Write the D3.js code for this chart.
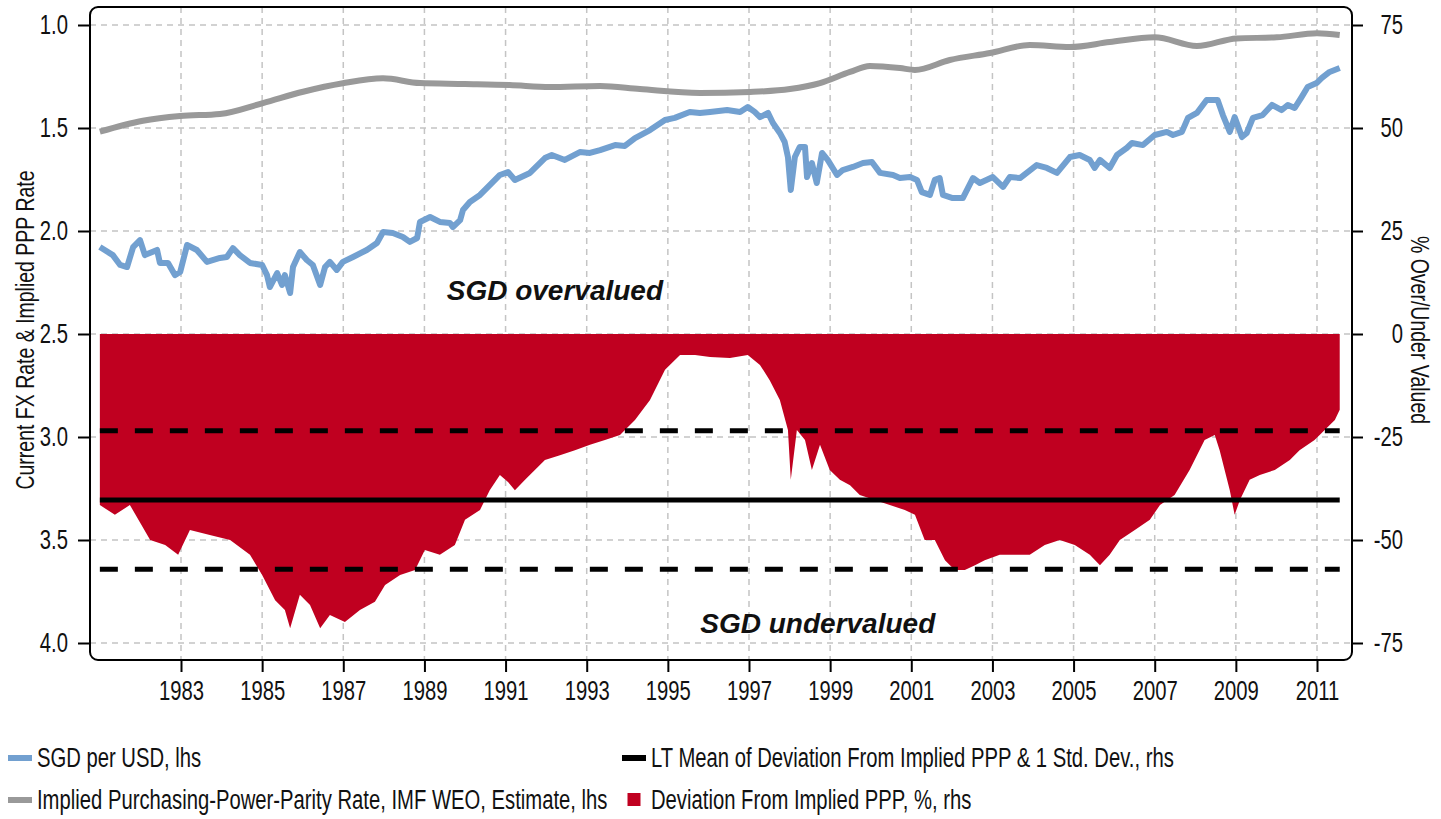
<!DOCTYPE html>
<html>
<head>
<meta charset="utf-8">
<script src="https://cdn.jsdelivr.net/npm/d3@7"></script>
<style>
  body { margin: 0; background: #fff; }
  svg text { font-family: "Liberation Sans", Arial, sans-serif; fill: #111; }
</style>
</head>
<body>
<svg id="chart" width="1441" height="819"></svg>
<script>
const svg = d3.select("#chart");

// SGD per USD (lhs)
const fxYears = [1981.00,1981.32,1981.50,1981.67,1981.82,1981.99,1982.11,1982.41,1982.48,1982.68,1982.85,1982.98,
  1983.15,1983.39,1983.64,1983.96,1984.13,1984.28,1984.45,1984.70,1985.00,1985.12,1985.19,1985.37,1985.49,1985.56,
  1985.69,1985.76,1985.93,1986.10,1986.25,1986.43,1986.55,1986.67,1986.84,1986.99,1987.24,1987.58,1987.83,1987.98,
  1988.22,1988.47,1988.64,1988.82,1988.89,1989.14,1989.38,1989.63,1989.70,1989.88,1989.95,1990.12,1990.37,1990.61,
  1990.86,1991.06,1991.23,1991.60,1991.97,1992.14,1992.46,1992.83,1993.08,1993.33,1993.70,1993.94,1994.19,1994.56,
  1994.93,1995.17,1995.54,1995.79,1996.04,1996.46,1996.78,1996.97,1997.14,1997.27,1997.47,1997.59,1997.76,1997.88,
  1997.96,1998.03,1998.13,1998.25,1998.38,1998.43,1998.55,1998.67,1998.80,1998.94,1999.17,1999.31,1999.56,1999.81,
  2000.03,2000.23,2000.55,2000.72,2000.97,2001.14,2001.26,2001.46,2001.58,2001.70,2001.78,2002.02,2002.27,2002.52,
  2002.69,2003.01,2003.26,2003.43,2003.68,2004.09,2004.34,2004.59,2004.91,2005.15,2005.40,2005.52,2005.65,2005.89,
  2006.07,2006.31,2006.44,2006.71,2007.00,2007.30,2007.45,2007.67,2007.82,2008.04,2008.28,2008.55,2008.68,2008.85,
  2008.97,2009.15,2009.27,2009.42,2009.66,2009.89,2010.13,2010.28,2010.45,2010.62,2010.77,2010.99,2011.12,2011.31,
  2011.56];
const fxValues = [2.078,2.117,2.165,2.175,2.078,2.044,2.117,2.092,2.155,2.155,2.214,2.199,
  2.068,2.092,2.150,2.131,2.126,2.083,2.117,2.155,2.165,2.214,2.272,2.204,2.262,2.214,
  2.301,2.175,2.102,2.141,2.165,2.262,2.175,2.150,2.189,2.150,2.126,2.092,2.058,2.005,
  2.010,2.029,2.053,2.034,1.956,1.932,1.956,1.961,1.981,1.947,1.898,1.859,1.825,1.777,
  1.728,1.714,1.752,1.718,1.646,1.631,1.655,1.617,1.621,1.607,1.583,1.587,1.549,1.510,
  1.461,1.451,1.422,1.427,1.422,1.413,1.422,1.398,1.422,1.447,1.427,1.476,1.524,1.568,
  1.641,1.801,1.641,1.592,1.592,1.738,1.670,1.767,1.621,1.655,1.728,1.704,1.689,1.670,
  1.665,1.718,1.728,1.743,1.738,1.752,1.811,1.825,1.752,1.743,1.825,1.840,1.840,1.743,
  1.767,1.738,1.786,1.738,1.743,1.680,1.694,1.718,1.641,1.631,1.655,1.694,1.655,1.694,
  1.631,1.597,1.573,1.583,1.534,1.519,1.534,1.519,1.451,1.427,1.364,1.364,1.437,1.519,
  1.447,1.544,1.524,1.451,1.437,1.388,1.413,1.388,1.403,1.350,1.301,1.282,1.257,1.228,
  1.209];

// Implied PPP rate, IMF WEO (lhs)
const pppYears = [1981.0,1982.06,1982.98,1983.96,1985.02,1986.01,1986.99,1987.98,1988.89,1990.0,1991.1,1992.09,
  1993.33,1994.31,1995.79,1997.02,1998.01,1998.75,1999.49,1999.98,2000.72,2001.09,2001.95,2002.94,2003.92,
  2004.91,2005.89,2007.0,2008.04,2009.02,2010.01,2011.0,2011.56];
const pppValues = [1.518,1.465,1.442,1.432,1.379,1.324,1.283,1.259,1.282,1.286,1.291,1.301,
  1.296,1.311,1.330,1.325,1.311,1.282,1.228,1.199,1.209,1.218,1.170,1.136,1.097,
  1.107,1.083,1.060,1.102,1.065,1.060,1.040,1.049];

// deviation from implied PPP, % (rhs)
const devYears = [1981.0,1981.37,1981.74,1982.24,1982.61,1982.93,1983.22,1983.71,1984.21,1984.70,1985.0,1985.32,
  1985.56,1985.69,1985.93,1986.18,1986.43,1986.67,1987.04,1987.41,1987.78,1988.03,1988.40,1988.77,1989.01,1989.38,
  1989.75,1990.0,1990.37,1990.61,1990.86,1991.06,1991.23,1991.48,1991.97,1992.34,1992.71,1993.08,1993.45,1993.82,
  1994.19,1994.56,1994.93,1995.30,1995.67,1996.04,1996.53,1996.97,1997.27,1997.51,1997.76,1997.96,1998.03,1998.18,
  1998.38,1998.55,1998.75,1998.99,1999.24,1999.49,1999.73,2000.10,2000.47,2000.84,2001.09,2001.33,2001.58,2001.83,
  2002.07,2002.32,2002.57,2002.81,2003.18,2003.55,2003.92,2004.29,2004.66,2005.03,2005.40,2005.65,2005.89,2006.14,
  2006.51,2006.88,2007.13,2007.49,2007.86,2008.23,2008.48,2008.60,2008.85,2008.97,2009.10,2009.34,2009.59,2009.96,
  2010.33,2010.57,2010.94,2011.19,2011.44,2011.56];
const devValues = [-41.5,-43.9,-41.5,-50.0,-51.2,-53.6,-47.6,-48.8,-50.0,-53.6,-58.5,-64.6,
  -67.0,-71.4,-63.3,-65.8,-71.4,-68.2,-69.9,-67.0,-65.0,-60.9,-58.5,-57.3,-52.4,-53.6,
  -51.2,-45.1,-42.7,-37.9,-34.2,-35.9,-37.9,-35.4,-30.6,-29.4,-28.2,-26.9,-25.7,-24.5,
  -20.9,-16.0,-8.7,-5.1,-5.1,-5.6,-5.8,-5.1,-7.5,-11.2,-16.0,-23.3,-35.4,-23.3,
  -25.7,-33.0,-26.9,-33.0,-35.4,-36.7,-39.1,-40.3,-41.5,-42.7,-43.9,-50.0,-50.0,-54.9,
  -57.3,-57.3,-56.1,-54.9,-53.6,-53.6,-53.6,-51.2,-50.0,-51.2,-53.6,-56.1,-53.6,-50.0,
  -47.6,-45.1,-41.5,-39.1,-33.0,-25.7,-24.5,-28.2,-37.9,-43.9,-40.3,-35.4,-34.2,-33.0,
  -30.6,-28.2,-25.7,-23.3,-20.9,-18.4];

const devMean = -40.3;
const devStd = 16.8;

const yearTicks = d3.range(1983, 2012, 2);
const leftTicks = [1.0, 1.5, 2.0, 2.5, 3.0, 3.5, 4.0];
const rightTicks = [75, 50, 25, 0, -25, -50, -75];

const legendItems = [
  { label: "SGD per USD, lhs", kind: "line", color: "#72a0d0", col: 0, row: 0 },
  { label: "LT Mean of Deviation From Implied PPP & 1 Std. Dev., rhs", kind: "line", color: "#000", col: 1, row: 0 },
  { label: "Implied Purchasing-Power-Parity Rate, IMF WEO, Estimate, lhs", kind: "line", color: "#999", col: 0, row: 1 },
  { label: "Deviation From Implied PPP, %, rhs", kind: "box", color: "#c00020", col: 1, row: 1 }
];

const plot = { left: 90, right: 1352, top: 7, bottom: 660 };
const squeeze = 0.75; // no condensed font installed, so narrow the glyphs

function condense(sel) {
  sel.each(function () {
    const t = d3.select(this);
    const xv = +t.attr("x") || 0;
    const tr = t.attr("transform") || "";
    t.attr("x", xv / squeeze).attr("transform", `${tr} scale(${squeeze},1)`);
  });
}

const x = d3.scaleLinear().domain([1983, 2011]).range([181, 1317]);
const yL = d3.scaleLinear().domain([1.0, 4.0]).range([25, 643]);
const yR = d3.scaleLinear().domain([75, -75]).range([25, 643]);

// grid
const grid = svg.append("g").attr("stroke", "#c4c4c4").attr("stroke-width", 1.5).attr("stroke-dasharray", "6,5");
grid.selectAll(".hg").data(leftTicks).enter().append("line")
  .attr("x1", plot.left).attr("x2", plot.right)
  .attr("y1", d => yL(d)).attr("y2", d => yL(d));
grid.selectAll(".vg").data(yearTicks).enter().append("line")
  .attr("x1", d => x(d)).attr("x2", d => x(d))
  .attr("y1", plot.top).attr("y2", plot.bottom);

// deviation area
const dev = devYears.map((yr, i) => [yr, devValues[i]]);
svg.append("path")
  .datum(dev)
  .attr("d", d3.area().x(d => x(d[0])).y0(yR(0)).y1(d => yR(d[1])))
  .attr("fill", "#c00020");

// mean +/- 1 std
const x0 = x(devYears[0]), x1 = x(devYears[devYears.length - 1]);
[[devMean, null], [devMean + devStd, "18,17"], [devMean - devStd, "18,17"]].forEach(([v, dash]) => {
  svg.append("line")
    .attr("x1", x0).attr("x2", x1)
    .attr("y1", yR(v)).attr("y2", yR(v))
    .attr("stroke", "#000").attr("stroke-width", 5)
    .attr("stroke-dasharray", dash);
});

// ppp line
svg.append("path")
  .datum(pppYears.map((yr, i) => [yr, pppValues[i]]))
  .attr("d", d3.line().x(d => x(d[0])).y(d => yL(d[1])).curve(d3.curveMonotoneX))
  .attr("fill", "none").attr("stroke", "#999").attr("stroke-width", 6);

// fx line
svg.append("path")
  .datum(fxYears.map((yr, i) => [yr, fxValues[i]]))
  .attr("d", d3.line().x(d => x(d[0])).y(d => yL(d[1])))
  .attr("fill", "none").attr("stroke", "#72a0d0").attr("stroke-width", 6)
  .attr("stroke-linejoin", "round");

// frame
svg.append("rect")
  .attr("x", plot.left).attr("y", plot.top)
  .attr("width", plot.right - plot.left).attr("height", plot.bottom - plot.top)
  .attr("rx", 8).attr("fill", "none").attr("stroke", "#000").attr("stroke-width", 2);

// axes
const axL = svg.append("g").attr("transform", `translate(${plot.left},0)`)
  .call(d3.axisLeft(yL).tickValues(leftTicks).tickFormat(d3.format(".1f")).tickSize(12).tickPadding(10));
const axR = svg.append("g").attr("transform", `translate(${plot.right},0)`)
  .call(d3.axisRight(yR).tickValues(rightTicks).tickFormat(d => String(d)).tickSize(11));
const axB = svg.append("g").attr("transform", `translate(0,${plot.bottom})`)
  .call(d3.axisBottom(x).tickValues(yearTicks).tickFormat(d3.format("d")).tickSize(12));

[axL, axR, axB].forEach(a => {
  a.select(".domain").remove();
  a.selectAll(".tick line").attr("stroke", "#000").attr("stroke-width", 2);
  a.selectAll("text").attr("font-size", 27).attr("fill", "#111")
    .style("font-family", '"Liberation Sans", Arial, sans-serif');
});
axR.selectAll("text").attr("text-anchor", "end").attr("x", 51);
axB.selectAll("text").attr("y", 21);
[axL, axR, axB].forEach(a => condense(a.selectAll("text")));

const titles = svg.append("g").attr("font-size", 26);
titles.append("text")
  .attr("transform", "translate(34,330) rotate(-90)")
  .attr("text-anchor", "middle")
  .text("Current FX Rate & Implied PPP Rate");
titles.append("text")
  .attr("transform", "translate(1411,330) rotate(90)")
  .attr("text-anchor", "middle")
  .text("% Over/Under Valued");
condense(titles.selectAll("text"));

// notes
svg.append("text")
  .attr("x", x(1989.55)).attr("y", yL(2.335))
  .attr("font-size", 28).attr("font-weight", "bold").attr("font-style", "italic")
  .text("SGD overvalued");
svg.append("text")
  .attr("x", x(1995.8)).attr("y", yL(3.95))
  .attr("font-size", 28).attr("font-weight", "bold").attr("font-style", "italic")
  .text("SGD undervalued");

// legend
const colX = [8, 622], rowY = [758, 800];
const leg = svg.append("g");
legendItems.forEach(it => {
  const lx = colX[it.col], ly = rowY[it.row];
  if (it.kind === "line") {
    leg.append("line").attr("x1", lx).attr("x2", lx + 24).attr("y1", ly).attr("y2", ly)
      .attr("stroke", it.color).attr("stroke-width", 6);
  } else {
    leg.append("rect").attr("x", lx + 5.5).attr("y", ly - 7).attr("width", 13).attr("height", 13)
      .attr("fill", it.color);
  }
  leg.append("text")
    .attr("x", lx + 29)
    .attr("y", ly + 9)
    .attr("font-size", 27)
    .text(it.label);
});
condense(leg.selectAll("text"));
</script>
</body>
</html>
